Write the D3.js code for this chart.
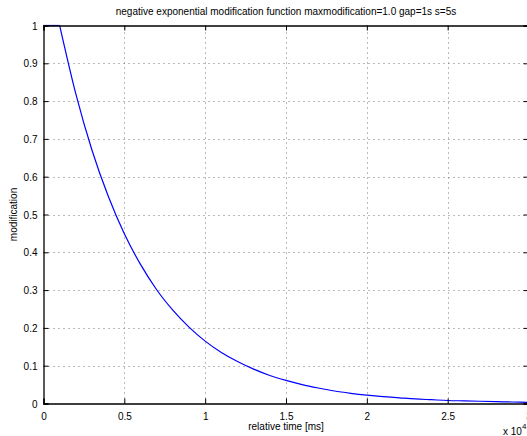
<!DOCTYPE html>
<html>
<head>
<meta charset="utf-8">
<script src="https://cdn.jsdelivr.net/npm/d3@7"></script>
<style>
	body { margin: 0; background: #fff; overflow: hidden; }
	svg text { font-family: "Liberation Sans", Arial, Helvetica, sans-serif; font-size: 10px; fill: #000; }
</style>
</head>
<body>
<svg width="527" height="436"></svg>
<script>
// relative time in ms, every 1000 ms
var times = [0, 1000, 2000, 3000, 4000, 5000, 6000, 7000, 8000, 9000, 10000,
	11000, 12000, 13000, 14000, 15000, 16000, 17000, 18000, 19000, 20000,
	21000, 22000, 23000, 24000, 25000, 26000, 27000, 28000, 29000, 30000];
var modification = [1, 1, 0.819, 0.670, 0.549, 0.449, 0.368, 0.301, 0.247, 0.202, 0.165,
	0.135, 0.111, 0.091, 0.074, 0.061, 0.050, 0.041, 0.033, 0.027, 0.022,
	0.018, 0.015, 0.012, 0.010, 0.008, 0.007, 0.006, 0.005, 0.004, 0.003];
var xTicks = [0, 0.5, 1, 1.5, 2, 2.5, 3];
var yTicks = [0, 0.1, 0.2, 0.3, 0.4, 0.5, 0.6, 0.7, 0.8, 0.9, 1];

var svg = d3.select("svg");
var plotLeft = 43.5, plotRight = 528.5, plotTop = 25.5, plotBottom = 403.5;

var x = d3.scaleLinear().domain([0, 3]).range([plotLeft, plotRight]);
var y = d3.scaleLinear().domain([0, 1]).range([plotBottom, plotTop]);

// grid
var grid = svg.append("g")
	.attr("stroke", "#777")
	.attr("stroke-width", 1)
	.attr("stroke-dasharray", "1,4");
grid.selectAll(".gx").data(xTicks.slice(1, -1)).enter().append("line")
	.attr("x1", function(d) { return Math.round(x(d)) + 0.5; })
	.attr("x2", function(d) { return Math.round(x(d)) + 0.5; })
	.attr("y1", plotBottom).attr("y2", plotTop);
grid.selectAll(".gy").data(yTicks.slice(1, -1)).enter().append("line")
	.attr("y1", function(d) { return Math.round(y(d)) + 0.5; })
	.attr("y2", function(d) { return Math.round(y(d)) + 0.5; })
	.attr("x1", plotLeft).attr("x2", plotRight);

// curve: flat gap part drawn straight, decay part smoothed
var pts = modification.map(function(d, i) { return [times[i] / 10000, d]; });
var flat = d3.line()
	.x(function(d) { return x(d[0]); })
	.y(function(d) { return y(d[1]); });
var decay = d3.line()
	.x(function(d) { return x(d[0]); })
	.y(function(d) { return y(d[1]); })
	.curve(d3.curveMonotoneX);
svg.append("path")
	.attr("fill", "none").attr("stroke", "#0000ff").attr("stroke-width", 1.2)
	.attr("d", flat(pts.slice(0, 2)));
svg.append("path")
	.attr("fill", "none").attr("stroke", "#0000ff").attr("stroke-width", 1.2)
	.attr("d", decay(pts.slice(1)));

// axes, matlab style (ticks inward on all sides)
var xAxis = d3.axisBottom(x).tickValues(xTicks).tickSize(-5).tickPadding(9)
	.tickFormat(function(d) { return d3.format("")(d); });
var gx = svg.append("g").attr("transform", "translate(0," + plotBottom + ")").call(xAxis);
var yAxis = d3.axisLeft(y).tickValues(yTicks).tickSize(-5).tickPadding(6)
	.tickFormat(function(d) { return d3.format("")(d); });
var gy = svg.append("g").attr("transform", "translate(" + plotLeft + ",0)").call(yAxis);
svg.append("g").attr("transform", "translate(0," + plotTop + ")")
	.call(d3.axisTop(x).tickValues(xTicks).tickSize(-5).tickFormat(""));
svg.append("g").attr("transform", "translate(" + plotRight + ",0)")
	.call(d3.axisRight(y).tickValues(yTicks).tickSize(-5).tickFormat(""));

svg.selectAll(".domain").attr("stroke", "#000").attr("stroke-width", 1.3);
svg.selectAll(".tick line").attr("stroke", "#000");
svg.selectAll("g").attr("font-family", null).attr("font-size", null);
gy.selectAll("text").attr("dy", "0.35em");

// labels
svg.append("text")
	.attr("x", (plotLeft + plotRight) / 2).attr("y", 15)
	.attr("text-anchor", "middle")
	.text("negative exponential modification function maxmodification=1.0 gap=1s s=5s");
svg.append("text")
	.attr("x", 286).attr("y", 430)
	.attr("text-anchor", "middle")
	.text("relative time [ms]");
svg.append("text")
	.attr("transform", "translate(17," + (plotTop + plotBottom) / 2 + ") rotate(-90)")
	.attr("text-anchor", "middle")
	.text("modification");
var exp = svg.append("text").attr("x", 503).attr("y", 435);
exp.append("tspan").text("x 10");
exp.append("tspan").attr("dy", -6).style("font-size", "8px").text("4");
</script>
</body>
</html>
